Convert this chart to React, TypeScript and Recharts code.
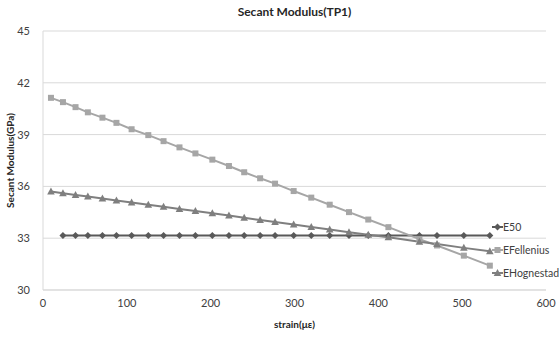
import { LineChart, Line, XAxis, YAxis, CartesianGrid, Label } from 'recharts';

const strain = [9.5, 23.8, 38.8, 53.5, 70.9, 87.6, 105.7, 125.6, 143.8, 162.8, 181.8, 202, 221.8, 240, 259, 276.8, 299, 320, 342, 365, 388, 412, 449, 470, 502, 533];

const e50 = [null, 33.15, 33.15, 33.15, 33.15, 33.15, 33.15, 33.15, 33.15, 33.15, 33.15, 33.15, 33.15, 33.15, 33.15, 33.15, 33.15, 33.15, 33.15, 33.15, 33.15, 33.15, 33.15, 33.15, 33.15, 33.15];

const eFellenius = [41.13, 40.88, 40.59, 40.29, 39.98, 39.68, 39.31, 38.97, 38.62, 38.26, 37.91, 37.55, 37.18, 36.82, 36.47, 36.16, 35.73, 35.35, 34.94, 34.51, 34.08, 33.64, 32.95, 32.58, 31.99, 31.41];

const eHognestad = [35.7, 35.6, 35.5, 35.41, 35.3, 35.19, 35.07, 34.94, 34.82, 34.69, 34.57, 34.44, 34.31, 34.18, 34.05, 33.94, 33.79, 33.65, 33.5, 33.35, 33.2, 33.05, 32.8, 32.66, 32.44, 32.24];

const xTicks = [0, 100, 200, 300, 400, 500, 600];
const yTicks = [30, 33, 36, 39, 42, 45];

const data = strain.map((s, i) => ({
  strain: s,
  E50: e50[i],
  EFellenius: eFellenius[i],
  EHognestad: eHognestad[i],
}));

const FONT = 'Lato, "Liberation Sans", sans-serif';

const SERIES = [
  { key: 'E50', color: '#595959', shape: 'diamond' },
  { key: 'EFellenius', color: '#a6a6a6', shape: 'square' },
  { key: 'EHognestad', color: '#7f7f7f', shape: 'triangle' },
];

const marker = (shape: string, cx: number, cy: number, color: string) => {
  if (shape === 'diamond') {
    return <polygon points={`${cx},${cy - 3.5} ${cx + 3.5},${cy} ${cx},${cy + 3.5} ${cx - 3.5},${cy}`} fill={color} />;
  }
  if (shape === 'square') {
    return <rect x={cx - 3} y={cy - 3} width={6} height={6} fill={color} />;
  }
  return <polygon points={`${cx},${cy - 4} ${cx + 3.8},${cy + 3} ${cx - 3.8},${cy + 3}`} fill={color} />;
};

const makeDot = (shape: string, color: string) => (props: any) => {
  const { cx, cy, index } = props;
  if (cx == null || cy == null || props.value == null) return <g key={`d-${index}`} />;
  return <g key={`d-${index}`}>{marker(shape, cx, cy, color)}</g>;
};

// legend drawn on top of the plot like the Excel original
const LegendBox = () => (
  <div
    style={{
      position: 'absolute',
      left: 492,
      top: 215,
      fontFamily: FONT,
      fontSize: 10.5,
      color: '#404040',
    }}
  >
    {SERIES.map((s) => (
      <div key={s.key} style={{ display: 'flex', alignItems: 'center', height: 23 }}>
        <svg width={11} height={10}>
          <line x1={0} y1={5} x2={11} y2={5} stroke={s.color} strokeWidth={2} />
          {marker(s.shape, 5.5, 5, s.color)}
        </svg>
        <span>{s.key}</span>
      </div>
    ))}
  </div>
);

export default function App() {
  return (
    <div style={{ position: 'absolute', left: 0, top: 0, width: 559, height: 338, background: '#fff' }}>
      <div
        style={{
          position: 'absolute',
          top: 4,
          left: 43,
          width: 503,
          textAlign: 'center',
          fontFamily: FONT,
          fontWeight: 'bold',
          fontSize: 12,
          color: '#262626',
        }}
      >
        Secant Modulus(TP1)
      </div>
      <LineChart width={559} height={338} data={data} margin={{ top: 31, right: 13, bottom: 28, left: 0 }}>
        <CartesianGrid horizontal vertical={false} stroke="#d9d9d9" />
        <XAxis
          dataKey="strain"
          type="number"
          domain={[0, 600]}
          ticks={xTicks}
          height={20}
          tickLine={false}
          axisLine={{ stroke: '#d9d9d9' }}
          tickSize={0}
          tickMargin={9}
          tick={{ fontFamily: FONT, fontSize: 11, fill: '#404040' }}
        >
          <Label
            value="strain(με)"
            position="insideBottom"
            offset={-18}
            style={{ fontFamily: FONT, fontSize: 10, fontWeight: 'bold', fill: '#262626' }}
          />
        </XAxis>
        <YAxis
          type="number"
          domain={[30, 45]}
          ticks={yTicks}
          width={43}
          tickLine={false}
          axisLine={{ stroke: '#d9d9d9' }}
          tickSize={0}
          tickMargin={13}
          tick={{ fontFamily: FONT, fontSize: 11, fill: '#404040' }}
        >
          <Label
            value="Secant Modulus(GPa)"
            angle={-90}
            position="insideLeft"
            offset={10}
            style={{ textAnchor: 'middle', fontFamily: FONT, fontSize: 10, fontWeight: 'bold', fill: '#262626' }}
          />
        </YAxis>
        {SERIES.map((s) => (
          <Line
            key={s.key}
            dataKey={s.key}
            stroke={s.color}
            strokeWidth={2}
            dot={makeDot(s.shape, s.color)}
            activeDot={false}
            isAnimationActive={false}
            connectNulls
          />
        ))}
      </LineChart>
      <LegendBox />
    </div>
  );
}
